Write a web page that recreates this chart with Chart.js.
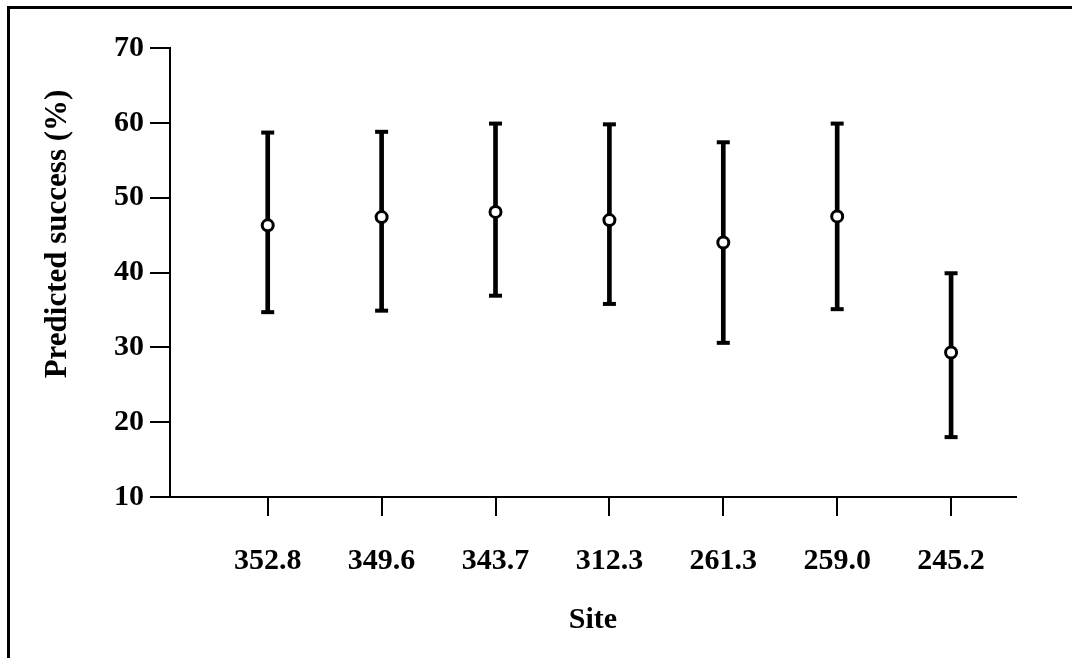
<!DOCTYPE html>
<html>
<head>
<meta charset="utf-8">
<script src="https://cdn.jsdelivr.net/npm/chart.js@4/dist/chart.umd.min.js"></script>
<style>
  body { margin: 0; background: #fff; overflow: hidden; }
  #frame {
    position: absolute; left: 7px; top: 6px; width: 1100px; height: 700px;
    border-top: 3px solid #000; border-left: 3px solid #000;
  }
  #chart { position: absolute; left: 0; top: 0; }
</style>
</head>
<body>
<div id="frame"></div>
<canvas id="chart" width="1072" height="658"></canvas>
<script>
// Sites along the x axis
const sites = ['352.8', '349.6', '343.7', '312.3', '261.3', '259.0', '245.2'];
// Predicted success (%) and its interval
const predicted = [46.3, 47.4, 48.1, 47.0, 44.0, 47.5, 29.3];
const lower = [34.7, 34.9, 36.9, 35.8, 30.6, 35.1, 18.0];
const upper = [58.7, 58.8, 59.9, 59.8, 57.4, 59.9, 39.9];
const yTicks = [10, 20, 30, 40, 50, 60, 70];

const FONT = 'Liberation Serif';

// y axis title is drawn by hand, it sits above the middle of the axis in the original
const yTitlePlugin = {
    id: 'yTitle',
    afterDraw(chart) {
        const ctx = chart.ctx;
        ctx.save();
        ctx.translate(58, 234);
        ctx.rotate(-Math.PI / 2);
        ctx.font = 'bold 31px "' + FONT + '"';
        ctx.fillStyle = '#000';
        ctx.textAlign = 'center';
        ctx.textBaseline = 'middle';
        ctx.fillText('Predicted success (%)', 0, 0);
        ctx.restore();
    }
};

const ctx = document.getElementById('chart').getContext('2d');
new Chart(ctx, {
    type: 'bar',
    data: {
        datasets: [
            {
                // vertical stems of the intervals
                type: 'bar',
                data: sites.map((s, i) => ({ x: i, y: [lower[i], upper[i]] })),
                backgroundColor: '#000',
                borderWidth: 0,
                barThickness: 4,
                order: 3
            },
            {
                // caps
                type: 'scatter',
                data: sites.map((s, i) => ({ x: i, y: lower[i] }))
                    .concat(sites.map((s, i) => ({ x: i, y: upper[i] }))),
                pointStyle: 'line',
                radius: 6.5,
                borderColor: '#000',
                borderWidth: 4,
                order: 2
            },
            {
                // predicted values
                type: 'scatter',
                data: sites.map((s, i) => ({ x: i, y: predicted[i] })),
                pointStyle: 'circle',
                radius: 5.5,
                backgroundColor: '#fff',
                borderColor: '#000',
                borderWidth: 3,
                order: 1
            }
        ]
    },
    options: {
        responsive: false,
        animation: false,
        layout: { padding: { top: 48, right: 56, left: 0, bottom: 0 } },
        plugins: {
            legend: { display: false },
            tooltip: { enabled: false }
        },
        scales: {
            x: {
                type: 'linear',
                offset: false,
                min: -0.858,
                max: 6.57,
                afterBuildTicks: (scale) => {
                    scale.ticks = sites.map((s, i) => ({ value: i }));
                },
                afterFit: (scale) => { scale.height = 161; },
                border: { display: true, color: '#000', width: 2 },
                grid: { offset: false, drawOnChartArea: false, drawTicks: true, tickLength: 19, color: '#000', lineWidth: 2 },
                ticks: {
                    color: '#000',
                    padding: 27,
                    maxRotation: 0,
                    font: { family: FONT, size: 30, weight: 'bold' },
                    callback: (v) => sites[v]
                },
                title: {
                    display: true,
                    text: 'Site',
                    color: '#000',
                    padding: { top: 0, bottom: 20 },
                    font: { family: FONT, size: 30, weight: 'bold' }
                }
            },
            y: {
                min: 10,
                max: 70,
                afterBuildTicks: (scale) => {
                    scale.ticks = yTicks.map(v => ({ value: v }));
                },
                afterFit: (scale) => { scale.width = 170; },
                border: { display: true, color: '#000', width: 2 },
                grid: { drawOnChartArea: false, drawTicks: true, tickLength: 20, color: '#000', lineWidth: 2 },
                ticks: {
                    color: '#000',
                    padding: 6,
                    font: { family: FONT, size: 30, weight: 'bold' }
                }
            }
        }
    },
    plugins: [yTitlePlugin]
});
</script>
</body>
</html>
